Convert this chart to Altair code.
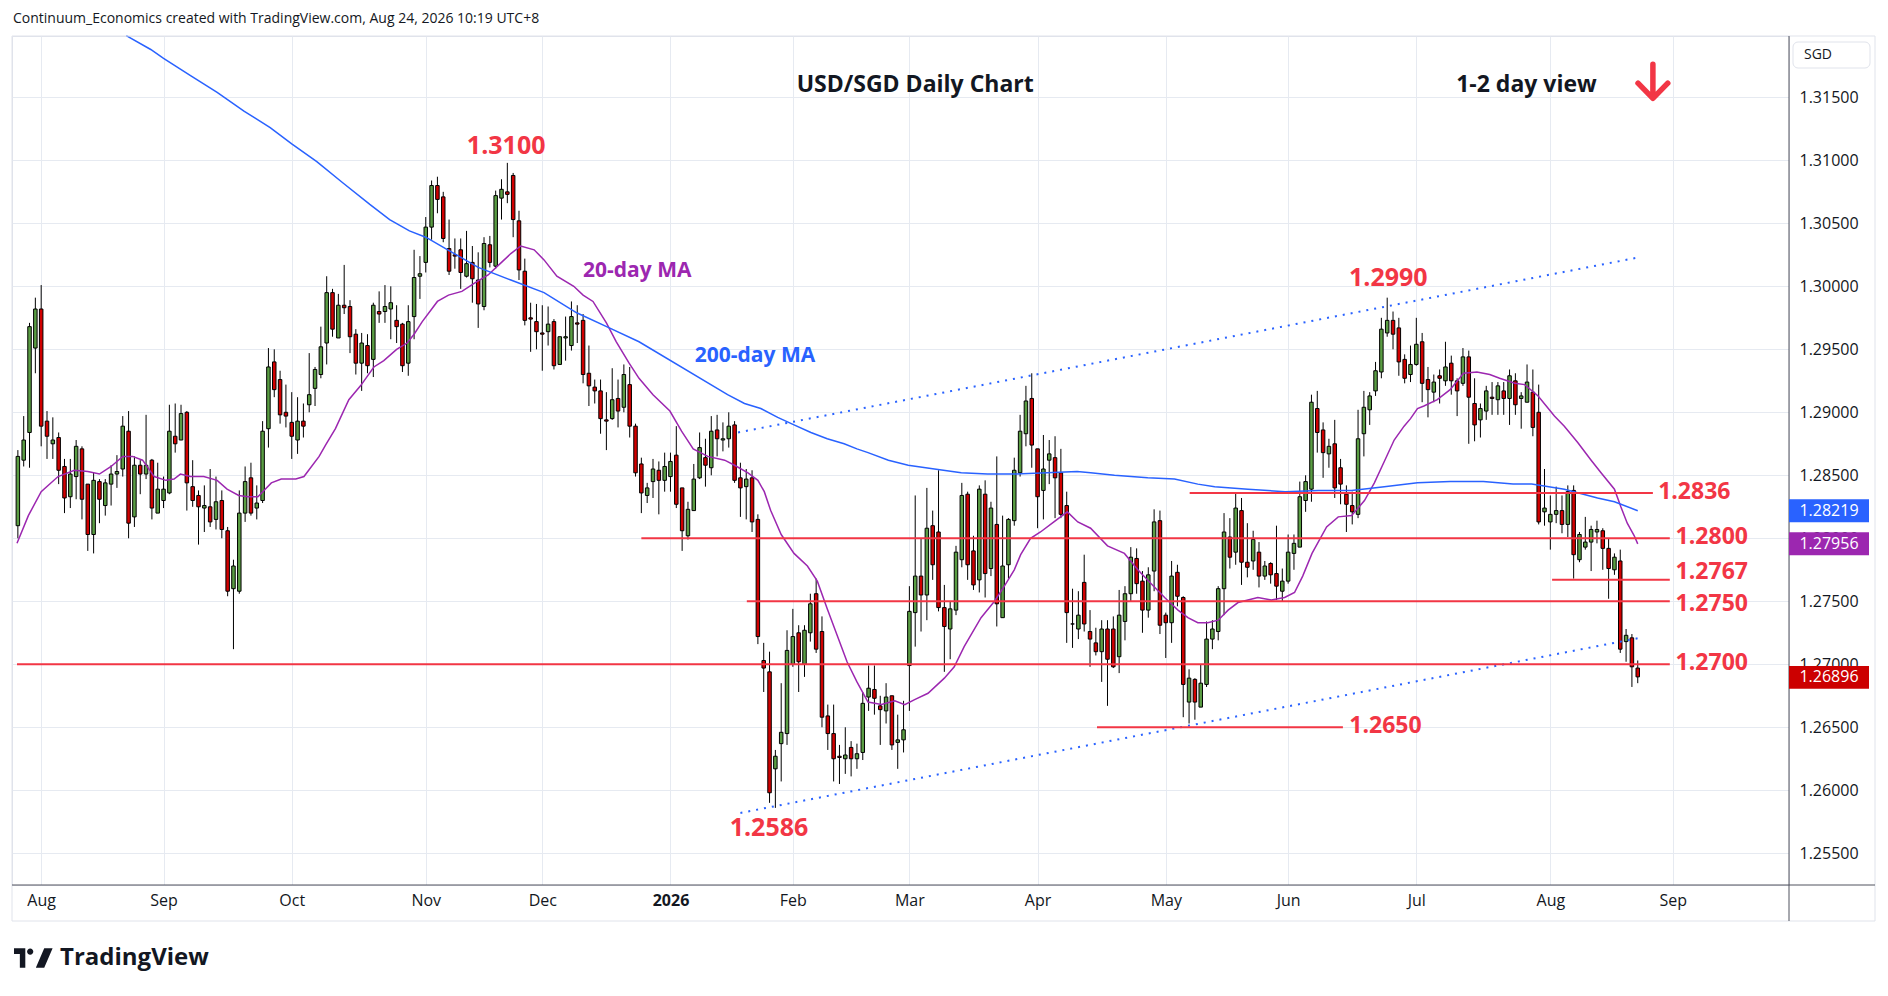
import altair as alt
import numpy as np
import pandas as pd

# ---------------- values (USD/SGD daily) ----------------
opens = [
    1.2810, 1.2862, 1.2884, 1.2951, 1.2982, 1.2893, 1.2875, 1.2880, 1.2857, 1.2833,
    1.2849, 1.2871, 1.2843, 1.2803, 1.2845, 1.2826, 1.2843, 1.2851, 1.2855, 1.2885,
    1.2817, 1.2858, 1.2851, 1.2862, 1.2820, 1.2830, 1.2836, 1.2881, 1.2878, 1.2900,
    1.2841, 1.2834, 1.2824, 1.2825, 1.2815, 1.2830, 1.2806, 1.2760, 1.2758, 1.2820,
    1.2848, 1.2824, 1.2830, 1.2887, 1.2940, 1.2926, 1.2900, 1.2892, 1.2878, 1.2893,
    1.2906, 1.2919, 1.2930, 1.2955, 1.2995, 1.2959, 1.2985, 1.2984, 1.2962, 1.2939,
    1.2953, 1.2942, 1.2980, 1.2980, 1.2982, 1.2973, 1.2970, 1.2939, 1.2976, 1.3008,
    1.3019, 1.3047, 1.3080, 1.3071, 1.3030, 1.3025, 1.3029, 1.3008, 1.3019, 1.3005,
    1.2984, 1.3033, 1.3016, 1.3070, 1.3075, 1.3088, 1.3052, 1.3012, 1.2975, 1.2972,
    1.2963, 1.2964, 1.2972, 1.2938, 1.2959, 1.2953, 1.2971, 1.2973, 1.2931, 1.2920,
    1.2917, 1.2894, 1.2895, 1.2911, 1.2904, 1.2922, 1.2889, 1.2859, 1.2834, 1.2845,
    1.2854, 1.2846, 1.2849, 1.2866, 1.2840, 1.2802, 1.2822, 1.2848, 1.2864, 1.2856,
    1.2886, 1.2878, 1.2879, 1.2890, 1.2848, 1.2841, 1.2848, 1.2815, 1.2703, 1.2694,
    1.2617, 1.2637, 1.2645, 1.2700, 1.2725, 1.2700, 1.2725, 1.2756, 1.2726, 1.2659,
    1.2645, 1.2627, 1.2625, 1.2634, 1.2625, 1.2630, 1.2674, 1.2680, 1.2667, 1.2663,
    1.2675, 1.2638, 1.2640, 1.2699, 1.2741, 1.2770, 1.2755, 1.2810, 1.2805, 1.2745,
    1.2728, 1.2743, 1.2783, 1.2835, 1.2790, 1.2767, 1.2835, 1.2776, 1.2811, 1.2737,
    1.2779, 1.2814, 1.2852, 1.2883, 1.2911, 1.2871, 1.2838, 1.2862, 1.2864, 1.2852,
    1.2826, 1.2732, 1.2728, 1.2765, 1.2726, 1.2717, 1.2710, 1.2728, 1.2728, 1.2706,
    1.2734, 1.2756, 1.2784, 1.2766, 1.2743, 1.2774, 1.2814, 1.2739, 1.2733, 1.2773,
    1.2753, 1.2670, 1.2688, 1.2666, 1.2684, 1.2720, 1.2726, 1.2760, 1.2801, 1.2789,
    1.2822, 1.2781, 1.2782, 1.2789, 1.2770, 1.2780, 1.2772, 1.2758, 1.2766, 1.2788,
    1.2793, 1.2830, 1.2839, 1.2903, 1.2886, 1.2867, 1.2875, 1.2856, 1.2835, 1.2826,
    1.2819, 1.2883, 1.2902, 1.2917, 1.2932, 1.2963, 1.2973, 1.2967, 1.2942, 1.2930,
    1.2938, 1.2956, 1.2926, 1.2916, 1.2929, 1.2925, 1.2939, 1.2925, 1.2923, 1.2944,
    1.2907, 1.2894, 1.2901, 1.2912, 1.2910, 1.2917, 1.2911, 1.2925, 1.2911, 1.2908,
    1.2916, 1.2900, 1.2821, 1.2813, 1.2819, 1.2822, 1.2811, 1.2838, 1.2783, 1.2793,
    1.2797, 1.2805, 1.2806, 1.2792, 1.2775, 1.2782, 1.2718, 1.2721, 1.2697,
]
highs = [
    1.2870, 1.2897, 1.2971, 1.2991, 1.3001, 1.2901, 1.2896, 1.2884, 1.2863, 1.2863,
    1.2878, 1.2873, 1.2843, 1.2852, 1.2847, 1.2847, 1.2858, 1.2866, 1.2897, 1.2901,
    1.2865, 1.2862, 1.2898, 1.2863, 1.2860, 1.2849, 1.2906, 1.2907, 1.2906, 1.2901,
    1.2862, 1.2838, 1.2842, 1.2855, 1.2849, 1.2838, 1.2809, 1.2783, 1.2838, 1.2857,
    1.2860, 1.2842, 1.2893, 1.2951, 1.2950, 1.2933, 1.2922, 1.2916, 1.2912, 1.2907,
    1.2947, 1.2936, 1.2968, 1.3008, 1.2998, 1.2994, 1.3017, 1.2989, 1.2966, 1.2963,
    1.2962, 1.2987, 1.2996, 1.3001, 1.3000, 1.2985, 1.2971, 1.2985, 1.3029, 1.3024,
    1.3055, 1.3084, 1.3087, 1.3075, 1.3053, 1.3038, 1.3038, 1.3044, 1.3032, 1.3027,
    1.3039, 1.3040, 1.3076, 1.3085, 1.3098, 1.3090, 1.3060, 1.3022, 1.2987, 1.2986,
    1.2985, 1.2984, 1.2974, 1.2960, 1.2976, 1.2988, 1.2985, 1.2978, 1.2953, 1.2926,
    1.2926, 1.2916, 1.2935, 1.2926, 1.2938, 1.2936, 1.2891, 1.2864, 1.2844, 1.2863,
    1.2861, 1.2868, 1.2868, 1.2889, 1.2840, 1.2829, 1.2859, 1.2884, 1.2879, 1.2897,
    1.2898, 1.2892, 1.2900, 1.2893, 1.2860, 1.2855, 1.2854, 1.2819, 1.2717, 1.2710,
    1.2632, 1.2685, 1.2727, 1.2744, 1.2731, 1.2731, 1.2756, 1.2768, 1.2738, 1.2668,
    1.2668, 1.2636, 1.2650, 1.2639, 1.2637, 1.2678, 1.2699, 1.2699, 1.2675, 1.2685,
    1.2675, 1.2660, 1.2671, 1.2762, 1.2834, 1.2800, 1.2840, 1.2822, 1.2854, 1.2763,
    1.2750, 1.2794, 1.2844, 1.2837, 1.2802, 1.2842, 1.2846, 1.2829, 1.2865, 1.2818,
    1.2816, 1.2864, 1.2898, 1.2921, 1.2931, 1.2871, 1.2882, 1.2878, 1.2881, 1.2871,
    1.2837, 1.2760, 1.2758, 1.2787, 1.2743, 1.2729, 1.2735, 1.2735, 1.2738, 1.2759,
    1.2762, 1.2793, 1.2792, 1.2774, 1.2777, 1.2823, 1.2822, 1.2741, 1.2782, 1.2779,
    1.2754, 1.2696, 1.2689, 1.2700, 1.2734, 1.2735, 1.2762, 1.2820, 1.2816, 1.2836,
    1.2832, 1.2812, 1.2806, 1.2797, 1.2782, 1.2781, 1.2810, 1.2776, 1.2803, 1.2803,
    1.2845, 1.2850, 1.2914, 1.2917, 1.2892, 1.2879, 1.2894, 1.2863, 1.2842, 1.2837,
    1.2902, 1.2917, 1.2916, 1.2940, 1.2975, 1.2991, 1.2980, 1.2975, 1.2946, 1.2953,
    1.2975, 1.2963, 1.2936, 1.2930, 1.2934, 1.2956, 1.2945, 1.2927, 1.2951, 1.2949,
    1.2927, 1.2907, 1.2921, 1.2924, 1.2924, 1.2924, 1.2934, 1.2931, 1.2916, 1.2938,
    1.2934, 1.2922, 1.2855, 1.2834, 1.2841, 1.2834, 1.2842, 1.2842, 1.2805, 1.2817,
    1.2810, 1.2814, 1.2808, 1.2800, 1.2788, 1.2791, 1.2728, 1.2724, 1.2703,
]
lows = [
    1.2800, 1.2857, 1.2856, 1.2931, 1.2873, 1.2863, 1.2863, 1.2843, 1.2820, 1.2824,
    1.2831, 1.2815, 1.2790, 1.2788, 1.2812, 1.2818, 1.2826, 1.2840, 1.2849, 1.2800,
    1.2809, 1.2835, 1.2847, 1.2815, 1.2820, 1.2824, 1.2835, 1.2868, 1.2878, 1.2822,
    1.2825, 1.2795, 1.2805, 1.2809, 1.2807, 1.2800, 1.2754, 1.2712, 1.2756, 1.2813,
    1.2818, 1.2815, 1.2828, 1.2872, 1.2912, 1.2891, 1.2888, 1.2863, 1.2867, 1.2880,
    1.2900, 1.2905, 1.2927, 1.2938, 1.2960, 1.2959, 1.2978, 1.2947, 1.2930, 1.2917,
    1.2931, 1.2928, 1.2971, 1.2971, 1.2958, 1.2955, 1.2932, 1.2929, 1.2958, 1.2990,
    1.3011, 1.3037, 1.3058, 1.3035, 1.3009, 1.3014, 1.2998, 1.3007, 1.2987, 1.2967,
    1.2981, 1.3015, 1.3014, 1.3053, 1.3066, 1.3039, 1.3005, 1.2969, 1.2948, 1.2950,
    1.2933, 1.2953, 1.2934, 1.2938, 1.2941, 1.2949, 1.2955, 1.2923, 1.2905, 1.2907,
    1.2883, 1.2870, 1.2894, 1.2888, 1.2900, 1.2880, 1.2849, 1.2820, 1.2828, 1.2832,
    1.2819, 1.2837, 1.2837, 1.2824, 1.2790, 1.2799, 1.2822, 1.2847, 1.2841, 1.2850,
    1.2865, 1.2869, 1.2872, 1.2844, 1.2817, 1.2815, 1.2805, 1.2716, 1.2678, 1.2590,
    1.2586, 1.2607, 1.2636, 1.2698, 1.2678, 1.2690, 1.2718, 1.2709, 1.2650, 1.2632,
    1.2607, 1.2605, 1.2613, 1.2611, 1.2617, 1.2624, 1.2663, 1.2660, 1.2636, 1.2653,
    1.2632, 1.2617, 1.2630, 1.2663, 1.2714, 1.2726, 1.2735, 1.2767, 1.2742, 1.2694,
    1.2704, 1.2739, 1.2777, 1.2767, 1.2759, 1.2757, 1.2753, 1.2770, 1.2730, 1.2737,
    1.2768, 1.2810, 1.2849, 1.2873, 1.2856, 1.2808, 1.2815, 1.2843, 1.2816, 1.2816,
    1.2717, 1.2713, 1.2720, 1.2726, 1.2698, 1.2707, 1.2686, 1.2667, 1.2697, 1.2693,
    1.2719, 1.2750, 1.2756, 1.2725, 1.2737, 1.2758, 1.2724, 1.2705, 1.2717, 1.2746,
    1.2658, 1.2653, 1.2656, 1.2666, 1.2682, 1.2712, 1.2719, 1.2739, 1.2776, 1.2779,
    1.2763, 1.2769, 1.2775, 1.2761, 1.2767, 1.2764, 1.2751, 1.2750, 1.2764, 1.2775,
    1.2793, 1.2821, 1.2829, 1.2868, 1.2848, 1.2856, 1.2832, 1.2827, 1.2805, 1.2811,
    1.2816, 1.2865, 1.2890, 1.2913, 1.2927, 1.2960, 1.2950, 1.2929, 1.2923, 1.2924,
    1.2937, 1.2908, 1.2896, 1.2908, 1.2907, 1.2921, 1.2914, 1.2897, 1.2921, 1.2875,
    1.2877, 1.2880, 1.2894, 1.2898, 1.2898, 1.2898, 1.2890, 1.2898, 1.2887, 1.2908,
    1.2881, 1.2811, 1.2810, 1.2791, 1.2812, 1.2804, 1.2801, 1.2768, 1.2781, 1.2791,
    1.2774, 1.2796, 1.2775, 1.2752, 1.2771, 1.2709, 1.2702, 1.2682, 1.2685,
]
closes = [
    1.2865, 1.2878, 1.2968, 1.2982, 1.2889, 1.2881, 1.2878, 1.2854, 1.2832, 1.2851,
    1.2873, 1.2831, 1.2803, 1.2846, 1.2831, 1.2844, 1.2851, 1.2853, 1.2889, 1.2812,
    1.2858, 1.2851, 1.2858, 1.2824, 1.2839, 1.2839, 1.2885, 1.2875, 1.2899, 1.2844,
    1.2830, 1.2825, 1.2826, 1.2813, 1.2829, 1.2807, 1.2758, 1.2778, 1.2820, 1.2845,
    1.2820, 1.2828, 1.2885, 1.2936, 1.2918, 1.2898, 1.2897, 1.2881, 1.2893, 1.2889,
    1.2914, 1.2934, 1.2952, 1.2995, 1.2966, 1.2985, 1.2983, 1.2960, 1.2939, 1.2955,
    1.2937, 1.2985, 1.2978, 1.2984, 1.2987, 1.2968, 1.2937, 1.2972, 1.3007, 1.3010,
    1.3047, 1.3080, 1.3069, 1.3038, 1.3012, 1.3024, 1.3011, 1.3018, 1.3006, 1.2986,
    1.3034, 1.3019, 1.3072, 1.3077, 1.3073, 1.3053, 1.3013, 1.2973, 1.2974, 1.2964,
    1.2962, 1.2970, 1.2937, 1.2960, 1.2960, 1.2976, 1.2970, 1.2930, 1.2921, 1.2917,
    1.2895, 1.2893, 1.2910, 1.2901, 1.2930, 1.2889, 1.2852, 1.2836, 1.2840, 1.2855,
    1.2846, 1.2857, 1.2861, 1.2827, 1.2806, 1.2823, 1.2847, 1.2872, 1.2858, 1.2885,
    1.2879, 1.2879, 1.2889, 1.2846, 1.2840, 1.2847, 1.2813, 1.2722, 1.2697, 1.2598,
    1.2627, 1.2646, 1.2711, 1.2722, 1.2702, 1.2727, 1.2748, 1.2712, 1.2658, 1.2645,
    1.2625, 1.2626, 1.2628, 1.2625, 1.2629, 1.2669, 1.2681, 1.2673, 1.2664, 1.2674,
    1.2636, 1.2640, 1.2648, 1.2742, 1.2770, 1.2755, 1.2808, 1.2779, 1.2745, 1.2730,
    1.2744, 1.2789, 1.2834, 1.2779, 1.2763, 1.2839, 1.2772, 1.2824, 1.2748, 1.2778,
    1.2815, 1.2854, 1.2885, 1.2909, 1.2874, 1.2833, 1.2855, 1.2867, 1.2848, 1.2819,
    1.2741, 1.2732, 1.2739, 1.2732, 1.2720, 1.2710, 1.2728, 1.2704, 1.2698, 1.2739,
    1.2756, 1.2785, 1.2764, 1.2743, 1.2771, 1.2813, 1.2731, 1.2733, 1.2770, 1.2754,
    1.2684, 1.2689, 1.2670, 1.2685, 1.2720, 1.2728, 1.2760, 1.2805, 1.2785, 1.2824,
    1.2781, 1.2777, 1.2799, 1.2770, 1.2778, 1.2771, 1.2762, 1.2766, 1.2789, 1.2796,
    1.2833, 1.2845, 1.2908, 1.2884, 1.2868, 1.2873, 1.2840, 1.2843, 1.2827, 1.2821,
    1.2879, 1.2904, 1.2913, 1.2933, 1.2966, 1.2973, 1.2962, 1.2940, 1.2927, 1.2938,
    1.2954, 1.2923, 1.2918, 1.2924, 1.2927, 1.2936, 1.2925, 1.2917, 1.2944, 1.2912,
    1.2890, 1.2903, 1.2917, 1.2911, 1.2921, 1.2911, 1.2929, 1.2906, 1.2913, 1.2924,
    1.2888, 1.2813, 1.2824, 1.2819, 1.2822, 1.2811, 1.2837, 1.2787, 1.2803, 1.2797,
    1.2807, 1.2807, 1.2792, 1.2776, 1.2785, 1.2712, 1.2723, 1.2698, 1.2690,
]

# 20-day moving average (bar position, value)
ma20_pos = [
    -4.15, -2.2, 0, 2.9, 5.7, 8.0, 10.0, 12.0, 14.0, 15.7,
    17.4, 19.4, 21.4, 22.8, 23.9, 25.6, 27.9, 30.2, 31.9, 33.9,
    35.5, 37.2, 39.5, 41.2, 43.7, 45.1, 47.7, 48.8, 50.5, 52.8,
    54.8, 57.1, 58.8, 61.0, 62.8, 64.0, 65.4, 68.0, 69.9, 72.2,
    74.5, 76.7, 79.0, 80.6, 82.3, 84.6, 86.3, 88.5, 91.4, 93.0,
    94.7, 97.0, 98.7, 100.9, 102.6, 105.0, 107.9, 109.9, 111.9, 114.4,
    117.3, 119.0, 121.3, 123.0, 124.1, 125.2, 127.0, 129.2, 131.5, 133.2,
    134.9, 136.6, 138.3, 140.0, 141.9, 144.2, 146.5, 148.2, 149.9, 152.2,
    155.0, 156.7, 158.4, 161.3, 163.6, 165.3, 167.0, 168.1, 169.8, 171.5,
    173.8, 176.1, 177.9, 180.1, 183.0, 185.9, 188.2, 190.5, 192.8, 195.1,
    196.8, 198.5, 200.2, 202.0, 203.7, 205.4, 208.8, 211.1, 213.4, 215.1,
    216.5, 218.1, 220.6, 222.6, 224.9, 227.1, 228.8, 230.5, 232.2, 233.9,
    235.0, 236.2, 237.3, 239.6, 241.8, 244.1, 246.4, 248.6, 250.3, 252.9,
    254.6, 256.9, 259.7, 261.4, 263.7, 266.0, 267.7, 270.0, 271.1, 272.2,
    273.4, 274.0,
]
ma20_val = [
    1.2796, 1.2818, 1.2837, 1.2849, 1.2854, 1.2853, 1.2851, 1.2857, 1.2865, 1.2865,
    1.2862, 1.2849, 1.2846, 1.2847, 1.2851, 1.2849, 1.2849, 1.2846, 1.2839, 1.2834,
    1.2833, 1.2833, 1.2844, 1.2847, 1.2847, 1.2849, 1.2865, 1.2874, 1.2887, 1.2910,
    1.2921, 1.2936, 1.2941, 1.2950, 1.2955, 1.2962, 1.2972, 1.2988, 1.2993, 1.2996,
    1.3003, 1.3009, 1.3019, 1.3026, 1.3032, 1.3029, 1.3021, 1.3008, 1.3000, 1.2993,
    1.2988, 1.2971, 1.2956, 1.2939, 1.2927, 1.2914, 1.2901, 1.2885, 1.2871, 1.2865,
    1.2862, 1.2858, 1.2852, 1.2846, 1.2837, 1.2822, 1.2803, 1.2788, 1.2778, 1.2766,
    1.2744, 1.2723, 1.2702, 1.2686, 1.2670, 1.2668, 1.2671, 1.2668, 1.2672, 1.2677,
    1.2689, 1.2698, 1.2714, 1.2737, 1.2750, 1.2762, 1.2775, 1.2787, 1.2800, 1.2805,
    1.2813, 1.2821, 1.2813, 1.2808, 1.2794, 1.2788, 1.2775, 1.2764, 1.2753, 1.2743,
    1.2737, 1.2733, 1.2733, 1.2735, 1.2743, 1.2749, 1.2753, 1.2751, 1.2753, 1.2757,
    1.2770, 1.2788, 1.2809, 1.2817, 1.2818, 1.2830, 1.2844, 1.2861, 1.2878, 1.2889,
    1.2895, 1.2903, 1.2905, 1.2910, 1.2918, 1.2931, 1.2932, 1.2930, 1.2927, 1.2923,
    1.2922, 1.2913, 1.2897, 1.2889, 1.2876, 1.2862, 1.2852, 1.2839, 1.2825, 1.2812,
    1.2802, 1.27956,
]

# 200-day moving average
ma200_pos = [
    14.6, 18.8, 21.0, 25.7, 30.2, 34.8, 39.3, 43.0, 47.3, 51.8,
    56.4, 59.8, 63.2, 66.0, 69.4, 75.0, 80.6, 86.3, 91.9, 97.5,
    102.6, 117.8, 120.7, 123.5, 126.4, 129.2, 132.1, 134.9, 137.8, 140.0,
    141.9, 145.4, 148.8, 153.3, 157.9, 162.4, 167.0, 172.6, 177.8, 180.1,
    184.2, 189.9, 194.5, 198.5, 201.4, 207.1, 213.5, 219.2, 224.9, 230.5,
    236.2, 241.8, 247.5, 252.6, 255.8, 261.4, 267.1, 270.0, 274.0,
]
ma200_val = [
    1.3199, 1.3188, 1.3181, 1.3167, 1.3154, 1.3139, 1.3126, 1.3113, 1.3099, 1.3082,
    1.3065, 1.3053, 1.3044, 1.3039, 1.3030, 1.3015, 1.3005, 1.2995, 1.2979, 1.2967,
    1.2956, 1.2914, 1.2907, 1.2903, 1.2896, 1.2890, 1.2884, 1.2879, 1.2875, 1.2871,
    1.2868, 1.2862, 1.2858, 1.2855, 1.2852, 1.2851, 1.2851, 1.2852, 1.2853, 1.2852,
    1.2850, 1.2848, 1.2847, 1.2843, 1.2841, 1.2839, 1.2837, 1.2838, 1.2838, 1.2841,
    1.2844, 1.2845, 1.2845, 1.2843, 1.2843, 1.2839, 1.2832, 1.2829, 1.28219,
]

# horizontal support / resistance levels
level_vals = [1.2836, 1.2800, 1.2767, 1.2750, 1.2700, 1.2650]
level_from = [197.1, 103.0, 259.3, 121.1, -4.15, 181.2]
level_to = [276.6, 279.5, 279.5, 279.5, 279.5, 223.4]
level_text = ["1.2836", "1.2800", "1.2767", "1.2750", "1.2700", "1.2650"]
level_lab_x = [277.5, 280.5, 280.5, 280.5, 280.5, 224.5]
level_lab_y = [1.2837, 1.2801, 1.2773, 1.2748, 1.2701, 1.2651]

# swing high / low labels
peak_text = ["1.3100", "1.2990", "1.2586"]
peak_x = [79.8, 231.2, 124.9]
peak_y = [1.3111, 1.3007, 1.2570]

# dotted channel lines
chan_x1 = [119.6, 120.0]
chan_y1 = [1.2884, 1.2582]
chan_x2 = [274.2, 274.4]
chan_y2 = [1.3023, 1.2721]

# last-value tags on the price scale
tag_vals = [1.28219, 1.27956, 1.26896]
tag_text = ["1.28219", "1.27956", "1.26896"]
tag_cols = ["#2962ff", "#9c27b0", "#cc0000"]

price_ticks = [round(1.255 + 0.005 * i, 3) for i in range(13)]

X_MIN, X_MAX = -4.15, 299.1
Y_MIN, Y_MAX = 1.25248, 1.31987

# ---------------- build tables ----------------
holidays = pd.to_datetime(["2025-12-25", "2026-01-01"])
dates = pd.bdate_range("2025-07-28", "2026-09-30")
dates = dates[~dates.isin(holidays)]
pos_all = np.arange(len(dates)) - 4

n = len(opens)
candles = pd.DataFrame({
    "idx": pos_all[:n],
    "date": dates[:n].strftime("%Y-%m-%d"),
    "o": opens, "h": highs, "l": lows, "c": closes,
})
candles["up"] = candles["c"] >= candles["o"]

periods = dates.to_period("M")
is_first = np.r_[True, np.asarray(periods[1:] != periods[:-1])]
month_pos, month_lab = [], []
for p, d, f in zip(pos_all, dates, is_first):
    if f and p >= 0 and p <= X_MAX:
        month_pos.append(int(p))
        month_lab.append("2026" if (d.month == 1) else d.strftime("%b"))
label_expr = "".join(f"datum.value == {p} ? '{l}' : " for p, l in zip(month_pos, month_lab)) + "''"
jan_pos = month_pos[month_lab.index("2026")]

ma20 = pd.DataFrame({"idx": ma20_pos, "v": ma20_val})
ma200 = pd.DataFrame({"idx": ma200_pos, "v": ma200_val})
levels = pd.DataFrame({"x1": level_from, "x2": level_to, "v": level_vals})
level_labels = pd.DataFrame({"x": level_lab_x, "y": level_lab_y, "t": level_text})
peaks = pd.DataFrame({"x": peak_x, "y": peak_y, "t": peak_text})
chan = pd.DataFrame({"x1": chan_x1, "y1": chan_y1, "x2": chan_x2, "y2": chan_y2})
tags = pd.DataFrame({"v": tag_vals, "t": tag_text, "col": tag_cols})
ma_labels = pd.DataFrame({"x": [102.3, 122.5], "y": [1.30121, 1.29447],
                          "t": ["20-day MA", "200-day MA"], "col": ["#9c27b0", "#2962ff"]})
titles = pd.DataFrame({"x": [150.0, 254.9], "y": [1.31598, 1.31598],
                       "t": ["USD/SGD Daily Chart", "1-2 day view"]})
arrow = pd.DataFrame({"x": [276.6], "y": [1.31624]})
one = pd.DataFrame({"k": [0]})

W, H = 1777, 849
FULL_W, FULL_H = 1863, 885
FONT = "Open Sans"
INK = "#131722"
GREEN = "#5a9d43"
RED = "#d10000"
LEVEL_RED = "#f23645"
FRAME = "#e0e3eb"

xs = alt.Scale(domain=[X_MIN, X_MAX], nice=False, zero=False)
ys = alt.Scale(domain=[Y_MIN, Y_MAX], nice=False, zero=False)


def X(f):
    return alt.X(f, scale=xs, axis=None)


def Y(f):
    return alt.Y(f, scale=ys, axis=None)


wicks = alt.Chart(candles).mark_rule(color="#000000", strokeWidth=1).encode(
    x=alt.X("idx:Q", scale=xs, axis=alt.Axis(
        values=month_pos, labelExpr=label_expr, title=None, grid=True,
        labelPadding=7, labelOverlap=False, labelFlush=False,
        labelFontWeight={"condition": {"test": f"datum.value == {jan_pos}", "value": "bold"},
                         "value": "normal"})),
    y=alt.Y("l:Q", scale=ys, axis=alt.Axis(
        orient="right", values=price_ticks, format=".5f", title=None, grid=True,
        labelPadding=10, labelOverlap=False, labelFlush=False)),
    y2="h:Q",
)

bodies = alt.Chart(candles).mark_bar(size=3.5, stroke="#000000", strokeWidth=1).encode(
    x=X("idx:Q"), y=Y("o:Q"), y2="c:Q",
    fill=alt.condition("datum.up", alt.value(GREEN), alt.value(RED)),
)

ma20_line = alt.Chart(ma20).mark_line(color="#9c27b0", strokeWidth=1.5).encode(
    x=X("idx:Q"), y=Y("v:Q"))
ma200_line = alt.Chart(ma200).mark_line(color="#2962ff", strokeWidth=1.5).encode(
    x=X("idx:Q"), y=Y("v:Q"))

chan_lines = alt.Chart(chan).mark_rule(color="#2962ff", strokeWidth=2, strokeDash=[2, 6]).encode(
    x=X("x1:Q"), x2="x2:Q", y=Y("y1:Q"), y2="y2:Q")

level_lines = alt.Chart(levels).mark_rule(color=LEVEL_RED, strokeWidth=2).encode(
    x=X("x1:Q"), x2="x2:Q", y=Y("v:Q"))

level_txt = alt.Chart(level_labels).mark_text(
    font=FONT, fontSize=23, fontWeight="bold", color=LEVEL_RED, align="left", baseline="middle"
).encode(x=X("x:Q"), y=Y("y:Q"), text="t:N")

peak_txt = alt.Chart(peaks).mark_text(
    font=FONT, fontSize=25, fontWeight="bold", color=LEVEL_RED, align="center", baseline="middle"
).encode(x=X("x:Q"), y=Y("y:Q"), text="t:N")

ma_txt = alt.Chart(ma_labels).mark_text(
    font=FONT, fontSize=21, fontWeight="bold", align="center", baseline="middle"
).encode(x=X("x:Q"), y=Y("y:Q"), text="t:N", color=alt.Color("col:N", scale=None))

title_txt = alt.Chart(titles).mark_text(
    font=FONT, fontSize=23, fontWeight="bold", color=INK, align="center", baseline="middle"
).encode(x=X("x:Q"), y=Y("y:Q"), text="t:N")

arrow_pt = alt.Chart(arrow).mark_point(
    shape="M0,-1L0,0.9M-0.85,0.08L0,0.95L0.85,0.08", size=1225, filled=False,
    strokeWidth=5.5, color=LEVEL_RED, strokeCap="round", strokeJoin="round", opacity=1
).encode(x=X("x:Q"), y=Y("y:Q"))

# outer light frame drawn as four rules
frame_top = alt.Chart(one).mark_rule(color=FRAME, strokeWidth=1).encode(
    x=alt.value(0), x2=alt.value(FULL_W), y=alt.value(0))
frame_bottom = alt.Chart(one).mark_rule(color=FRAME, strokeWidth=1).encode(
    x=alt.value(0), x2=alt.value(FULL_W), y=alt.value(FULL_H))
frame_left = alt.Chart(one).mark_rule(color=FRAME, strokeWidth=1).encode(
    x=alt.value(0), y=alt.value(0), y2=alt.value(FULL_H))
frame_right = alt.Chart(one).mark_rule(color=FRAME, strokeWidth=1).encode(
    x=alt.value(FULL_W), y=alt.value(0), y2=alt.value(FULL_H))

axis_v = alt.Chart(one).mark_rule(color="#50535e", strokeWidth=1).encode(
    x=alt.value(W), y=alt.value(0), y2=alt.value(FULL_H))
axis_h = alt.Chart(one).mark_rule(color="#50535e", strokeWidth=1).encode(
    y=alt.value(H), x=alt.value(0), x2=alt.value(FULL_W))

tag_rect = alt.Chart(tags).transform_calculate(
    top="datum.v + 0.00091", bot="datum.v - 0.00091"
).mark_rect().encode(
    x=alt.value(W), x2=alt.value(W + 80), y=Y("top:Q"), y2="bot:Q",
    fill=alt.Color("col:N", scale=None))
tag_txt = alt.Chart(tags).mark_text(
    font=FONT, fontSize=16, color="white", align="center", baseline="middle"
).encode(x=alt.value(W + 40), y=Y("v:Q"), text="t:N")

sgd_box = alt.Chart(one).mark_rect(cornerRadius=5, fill="white", stroke=FRAME, strokeWidth=1).encode(
    x=alt.value(1781), x2=alt.value(1858), y=alt.value(6), y2=alt.value(32))
sgd_txt = alt.Chart(one).mark_text(
    text="SGD", font=FONT, fontSize=14, color=INK, align="left", baseline="middle"
).encode(x=alt.value(1792), y=alt.value(19))

header = alt.Chart(one).mark_text(
    text="Continuum_Economics created with TradingView.com, Aug 24, 2026 10:19 UTC+8",
    font=FONT, fontSize=14, color=INK, align="left", baseline="middle"
).encode(x=alt.value(1), y=alt.value(-17))

logo = alt.Chart(one).mark_point(
    shape=("M-1,-0.5L-0.42,-0.5L-0.42,0.5L-0.7,0.5L-0.7,-0.2L-1,-0.2Z"
           "M-0.33,-0.33A0.16,0.16 0 1 0 -0.01,-0.33A0.16,0.16 0 1 0 -0.33,-0.33Z"
           "M0.12,0.5L0.55,-0.5L0.98,-0.5L0.55,0.5Z"),
    size=1521, filled=True, color=INK, strokeWidth=0, opacity=1
).encode(x=alt.value(21.5), y=alt.value(922))
footer = alt.Chart(one).mark_text(
    text="TradingView", font=FONT, fontSize=24, fontWeight="bold", color=INK,
    align="left", baseline="middle"
).encode(x=alt.value(48), y=alt.value(922))

chart = alt.layer(
    wicks, bodies, ma20_line, ma200_line, chan_lines, level_lines,
    level_txt, peak_txt, ma_txt, title_txt, arrow_pt,
    frame_top, frame_bottom, frame_left, frame_right, axis_v, axis_h,
    tag_rect, tag_txt, sgd_box, sgd_txt, header, logo, footer,
).resolve_axis(
    x="independent", y="independent"
).properties(
    width=W, height=H,
    autosize=alt.AutoSizeParams(type="none"),
    padding={"left": 4, "top": 28, "right": 90, "bottom": 95},
    background="white",
).configure_view(
    stroke=FRAME, strokeWidth=1
).configure_axis(
    domain=False, ticks=False, gridColor="#e6eaf1", gridWidth=1,
    labelFont=FONT, labelFontSize=16, labelColor=INK,
)

chart.save("out.html", embed_options={"renderer": "svg", "actions": False})
